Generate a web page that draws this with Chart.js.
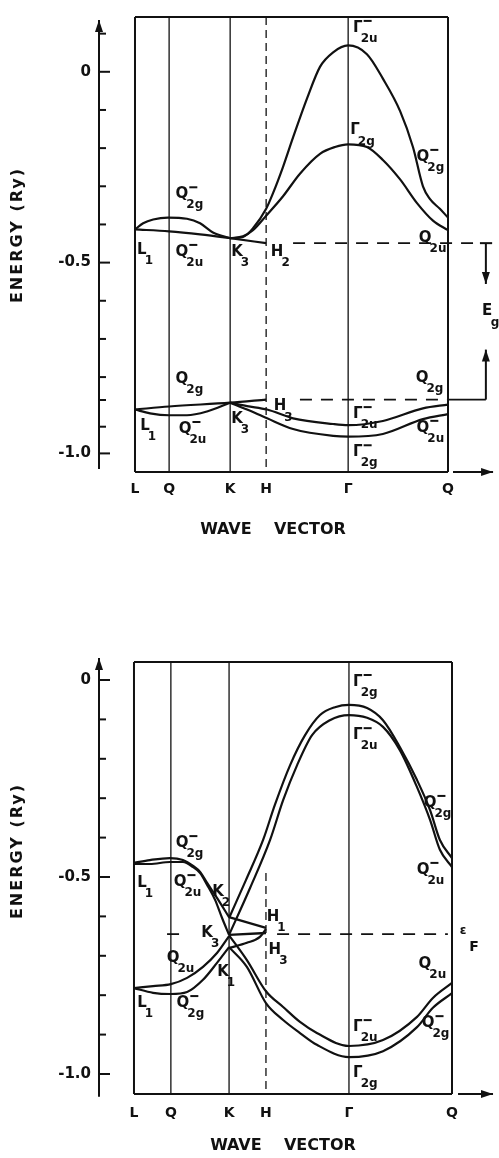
<!DOCTYPE html>
<html><head><meta charset="utf-8">
<script src="https://cdn.jsdelivr.net/npm/chart.js@4.4.1/dist/chart.umd.min.js"></script>
<style>
html,body{margin:0;padding:0;background:#fff;}
#wrap{position:relative;width:499px;height:1158px;overflow:hidden;}
#c1{position:absolute;left:0;top:0;}
#c2{position:absolute;left:0;top:560px;}
</style></head><body>
<div id="wrap">
<canvas id="c1" width="499" height="560"></canvas>
<canvas id="c2" width="499" height="598"></canvas>
</div>
<script>
// ---------- shared ----------
const symLabels = ['L','Q','K','H','Γ','Q'];
const kTop = [0, 0.109, 0.304, 0.419, 0.681, 1];
const kBot = [0, 0.116, 0.299, 0.415, 0.676, 1];
const yTicksTop = [0.1,0,-0.1,-0.2,-0.3,-0.4,-0.5,-0.6,-0.7,-0.8,-0.86,-0.93,-1.0];
const yTicksBot = [0,-0.1,-0.2,-0.3,-0.4,-0.5,-0.6,-0.7,-0.8,-0.9,-1.0];
const yLabelVals = [0,-0.5,-1.0];
const yLabelText = ['0','-0.5','-1.0'];

// ---------- top panel bands (k, E in Ry) ----------
const t1k = [0,0.026,0.058,0.105,0.166,0.208,0.249,0.304];
const t1E = [-0.413,-0.397,-0.387,-0.382,-0.385,-0.397,-0.421,-0.436];
const t2k = [0,0.109,0.208,0.304,0.419];
const t2E = [-0.413,-0.418,-0.426,-0.436,-0.449];
const t3k = [0.304,0.345,0.377,0.419,0.441,0.473,0.505,0.550,0.591,0.633,0.681,0.741,0.792,0.847,0.888,0.920,0.942,0.974,1];
const t3E = [-0.436,-0.433,-0.410,-0.359,-0.318,-0.249,-0.172,-0.069,0.013,0.051,0.069,0.046,-0.018,-0.103,-0.197,-0.300,-0.333,-0.359,-0.382];
const t4k = [0.304,0.345,0.377,0.419,0.473,0.527,0.591,0.639,0.681,0.741,0.792,0.847,0.901,0.952,1];
const t4E = [-0.436,-0.431,-0.415,-0.377,-0.326,-0.267,-0.215,-0.197,-0.190,-0.197,-0.231,-0.282,-0.344,-0.390,-0.415];
const t5k = [0,0.109,0.304,0.419];
const t5E = [-0.885,-0.877,-0.867,-0.859];
const t6k = [0,0.048,0.109,0.166,0.230,0.304];
const t6E = [-0.885,-0.895,-0.900,-0.900,-0.890,-0.867];
const t7k = [0.304,0.358,0.422,0.505,0.633,0.681,0.792,0.920,1];
const t7E = [-0.867,-0.876,-0.885,-0.908,-0.923,-0.926,-0.915,-0.882,-0.872];
const t8k = [0.304,0.358,0.422,0.505,0.633,0.681,0.792,0.920,1];
const t8E = [-0.867,-0.885,-0.908,-0.936,-0.954,-0.956,-0.949,-0.910,-0.897];
// dashed reference levels (top)
const h2DashK = [0.505, 1.08];
const h2DashE = [-0.449, -0.449];
const h3DashK = [0.527, 1.0];
const h3DashE = [-0.859, -0.859];
const h3SolidK = [1.0, 1.121];
const h3SolidE = [-0.859, -0.859];

// ---------- bottom panel bands ----------
const b1k = [0,0.050,0.113,0.154,0.186,0.208,0.230,0.261,0.299];
const b1E = [-0.464,-0.457,-0.452,-0.457,-0.472,-0.487,-0.515,-0.553,-0.602];
const b2k = [0,0.050,0.113,0.154,0.186,0.208,0.230,0.255,0.277,0.299];
const b2E = [-0.467,-0.467,-0.462,-0.462,-0.475,-0.490,-0.520,-0.558,-0.604,-0.647];
const b3k = [0.299,0.415];
const b3E = [-0.602,-0.629];
const b4k = [0.299,0.415];
const b4E = [-0.647,-0.642];
const b5k = [0,0.060,0.116,0.167,0.217,0.261,0.299];
const b5E = [-0.782,-0.777,-0.772,-0.756,-0.728,-0.693,-0.650];
const b6k = [0,0.060,0.116,0.167,0.217,0.261,0.299];
const b6E = [-0.782,-0.794,-0.797,-0.792,-0.761,-0.718,-0.678];
const b7k = [0.299,0.355,0.415,0.469,0.522,0.575,0.676,0.783,0.890,0.940,1];
const b7E = [-0.648,-0.711,-0.790,-0.830,-0.868,-0.896,-0.929,-0.914,-0.855,-0.807,-0.769];
const b8k = [0.299,0.355,0.415,0.469,0.522,0.575,0.676,0.783,0.890,0.940,1];
const b8E = [-0.678,-0.728,-0.820,-0.863,-0.896,-0.926,-0.957,-0.942,-0.881,-0.832,-0.795];
const b9k = [0.299,0.352,0.406,0.443,0.491,0.538,0.585,0.632,0.676,0.733,0.783,0.836,0.890,0.931,0.962,1];
const b9E = [-0.604,-0.508,-0.406,-0.317,-0.216,-0.140,-0.089,-0.069,-0.063,-0.071,-0.102,-0.170,-0.254,-0.330,-0.406,-0.452];
const b10k = [0.299,0.365,0.428,0.469,0.513,0.560,0.616,0.676,0.733,0.783,0.836,0.890,0.931,0.962,1];
const b10E = [-0.647,-0.528,-0.406,-0.305,-0.216,-0.140,-0.102,-0.089,-0.096,-0.119,-0.178,-0.272,-0.355,-0.431,-0.475];
const b11k = [0.299,0.355,0.396,0.415];
const b11E = [-0.680,-0.667,-0.652,-0.632];
// Fermi level
const efDash1K = [0.104, 0.145];
const efDash2K = [0.45, 0.987];
const efE = -0.645;

// ---------- labels ----------
const topLblMain = ['Γ','Γ','Q','Q','Q','L','Q','K','H','Q','L','Q','K','H','Q','Γ','Q','Γ'];
const topLblSub  = ['2u','2g','2g','2u','2g','1','2u','3','2','2g','1','2u','3','3','2g','2u','2u','2g'];
const topLblBar  = [1,0,1,0,1,0,1,0,0,0,0,1,0,0,0,1,1,1];
const topLblK    = [0.712,0.703,0.920,0.927,0.150,0.022,0.150,0.326,0.454,0.150,0.032,0.160,0.326,0.463,0.917,0.712,0.920,0.712];
const topLblE    = [0.115,-0.154,-0.223,-0.436,-0.321,-0.467,-0.472,-0.472,-0.472,-0.805,-0.928,-0.936,-0.910,-0.877,-0.803,-0.897,-0.933,-0.997];

const botLblMain = ['Γ','Γ','Q','Q','Q','L','Q','K','H','K','H','Q','K','L','Q','Q','Γ','Q','Γ'];
const botLblSub  = ['2g','2u','2g','2g','2u','1','2u','2','1','3','3','2u','1','1','2g','2u','2u','2g','2g'];
const botLblBar  = [1,1,1,1,1,0,1,0,0,0,0,0,0,0,1,0,1,1,0];
const botLblK    = [0.704,0.704,0.931,0.151,0.909,0.025,0.145,0.264,0.437,0.230,0.443,0.123,0.280,0.025,0.154,0.915,0.704,0.925,0.704];
const botLblE    = [-0.005,-0.140,-0.312,-0.414,-0.482,-0.515,-0.513,-0.538,-0.602,-0.642,-0.685,-0.706,-0.741,-0.820,-0.820,-0.721,-0.881,-0.871,-0.997];

// ---------- helpers ----------
const FONT = "'DejaVu Sans', sans-serif";
const INK = '#111';
Chart.defaults.font.family = FONT;
Chart.defaults.color = INK;

function pts(k,E){ return k.map((v,i)=>({x:v, y:E[i]})); }
function curve(k,E){
  return {data:pts(k,E), showLine:true, borderColor:INK, borderWidth:2.2, pointRadius:0,
          fill:false, cubicInterpolationMode:'monotone', clip:false};
}
function straight(k,E,dash,w){
  return {data:pts(k,E), showLine:true, borderColor:INK, borderWidth:w||1.8, pointRadius:0,
          fill:false, tension:0, borderDash:dash||[], clip:false};
}

function drawSym(ctx, x, y, main, sub, bar){
  ctx.fillStyle = INK;
  ctx.font = `bold 15px ${FONT}`;
  ctx.textAlign = 'center'; ctx.textBaseline = 'middle';
  ctx.fillText(main, x, y);
  const w = ctx.measureText(main).width;
  ctx.font = `bold 12px ${FONT}`;
  ctx.textAlign = 'left';
  const sx = x + w/2 - 2;
  ctx.fillText(sub, sx, y + 11);
  if (bar){
    ctx.strokeStyle = INK; ctx.lineWidth = 2; ctx.setLineDash([]);
    ctx.beginPath(); ctx.moveTo(sx+3, y-7); ctx.lineTo(sx+11, y-7); ctx.stroke();
  }
}
function line(ctx,x0,y0,x1,y1,w,dash){
  ctx.save(); ctx.strokeStyle=INK; ctx.lineWidth=w; ctx.setLineDash(dash||[]);
  ctx.beginPath(); ctx.moveTo(x0,y0); ctx.lineTo(x1,y1); ctx.stroke(); ctx.restore();
}
function arrowHead(ctx,x,y,dir){ // dir: 'up','down','right'
  ctx.save(); ctx.fillStyle=INK; ctx.beginPath();
  if(dir==='up'){ctx.moveTo(x,y);ctx.lineTo(x-4,y+12);ctx.lineTo(x+4,y+12);}
  if(dir==='down'){ctx.moveTo(x,y);ctx.lineTo(x-4,y-12);ctx.lineTo(x+4,y-12);}
  if(dir==='right'){ctx.moveTo(x,y);ctx.lineTo(x-12,y-4);ctx.lineTo(x-12,y+4);}
  ctx.closePath(); ctx.fill(); ctx.restore();
}

function deco(cfg){
  return {
    id:'deco',
    afterDatasetsDraw(chart){
      const {ctx, chartArea:a, scales:{x, y}} = chart;
      const px = v => x.getPixelForValue(v), py = v => y.getPixelForValue(v);
      ctx.save();
      // frame
      const L = px(0), R = px(1);
      line(ctx, L, a.top, R, a.top, 2);
      line(ctx, L, a.bottom, R, a.bottom, 2);
      line(ctx, L, a.top, L, a.bottom, 2);
      line(ctx, R, a.top, R, a.bottom, 2);
      [1,2,4].forEach(i => line(ctx, px(cfg.k[i]), a.top, px(cfg.k[i]), a.bottom, 1.3));
      line(ctx, px(cfg.k[3]), py(cfg.hDashTop), px(cfg.k[3]), a.bottom, 1.3, [8,5]);
      // y axis
      const ax = a.left;
      line(ctx, ax, py(cfg.axTop), ax, py(cfg.axBot), 2);
      arrowHead(ctx, ax, py(cfg.axTop), 'up');
      cfg.yTicks.forEach(v => {
        const lab = yLabelVals.some(t => Math.abs(t-v) < 1e-6);
        line(ctx, ax, py(v), ax + (lab ? 11 : 7), py(v), 2);
      });
      // x axis arrow
      line(ctx, px(cfg.xArr[0]), a.bottom, px(cfg.xArr[1]), a.bottom, 2);
      arrowHead(ctx, px(cfg.xArr[1]), a.bottom, 'right');
      // level labels
      cfg.lblMain.forEach((m,i) => drawSym(ctx, px(cfg.lblK[i]), py(cfg.lblE[i]), m, cfg.lblSub[i], cfg.lblBar[i]));
      // axis titles
      ctx.fillStyle = INK;
      ctx.font = `bold 16px ${FONT}`;
      ctx.textAlign = 'center'; ctx.textBaseline = 'middle';
      ctx.fillText('WAVE    VECTOR', cfg.xTitle[0], cfg.xTitle[1]);
      ctx.save();
      ctx.translate(cfg.yTitle[0], cfg.yTitle[1]);
      ctx.rotate(-Math.PI/2);
      ctx.letterSpacing = '2px';
      ctx.fillText('ENERGY (Ry)', 0, 0);
      ctx.restore();
      if (cfg.extra) cfg.extra(ctx, px, py, a);
      ctx.restore();
    }
  };
}

function scalesFor(kArr, xMin, yMin, yMax, yTicks, xAxisH, xPad){
  return {
    x:{type:'linear', min:xMin, max:1,
       afterFit(s){ s.height = xAxisH; },
       afterBuildTicks(s){ s.ticks = kArr.map(v => ({value:v})); },
       ticks:{autoSkip:false, maxRotation:0, padding:xPad, color:INK,
              font:{size:14, weight:'bold'},
              callback:(v,i) => symLabels[i]},
       grid:{display:false, drawTicks:false}, border:{display:false}},
    y:{type:'linear', min:yMin, max:yMax,
       afterFit(s){ s.width = 99; },
       afterBuildTicks(s){ s.ticks = yTicks.map(v => ({value:v})); },
       ticks:{autoSkip:false, padding:8, color:INK, font:{size:15, weight:'bold'},
              callback:(v) => { const i = yLabelVals.findIndex(t => Math.abs(t-v) < 1e-6); return i >= 0 ? yLabelText[i] : ''; }},
       grid:{display:false, drawTicks:false}, border:{display:false}}
  };
}
const baseOpts = {responsive:false, animation:false, events:[],
  plugins:{legend:{display:false}, tooltip:{enabled:false}}};

// ---------- top chart ----------
new Chart(document.getElementById('c1'), {
  type:'scatter',
  data:{datasets:[
    curve(t1k,t1E), curve(t2k,t2E), curve(t3k,t3E), curve(t4k,t4E),
    curve(t5k,t5E), curve(t6k,t6E), curve(t7k,t7E), curve(t8k,t8E),
    straight(h2DashK,h2DashE,[12,9]), straight(h3DashK,h3DashE,[12,9]), straight(h3SolidK,h3SolidE,[],1.8)
  ]},
  options:Object.assign({}, baseOpts, {
    layout:{padding:{left:0, right:51, top:7, bottom:0}},
    scales:scalesFor(kTop, -0.115, -1.0487, 0.1436, yTicksTop, 88, 9)
  }),
  plugins:[deco({
    k:kTop, hDashTop:0.1436, axTop:0.136, axBot:-1.041, yTicks:yTicksTop,
    xArr:[1.016, 1.144],
    lblMain:topLblMain, lblSub:topLblSub, lblBar:topLblBar, lblK:topLblK, lblE:topLblE,
    xTitle:[273, 530], yTitle:[18, 235],
    extra(ctx, px, py){
      const ex = px(1.121);
      line(ctx, px(1.102), py(-0.449), px(1.141), py(-0.449), 2);
      line(ctx, ex, py(-0.449), ex, py(-0.556), 2);
      arrowHead(ctx, ex, py(-0.556), 'down');
      line(ctx, ex, py(-0.859), ex, py(-0.728), 2);
      arrowHead(ctx, ex, py(-0.728), 'up');
      ctx.fillStyle = INK; ctx.textAlign='center'; ctx.textBaseline='middle';
      ctx.font = `bold 15px ${FONT}`;
      ctx.fillText('E', px(1.125), py(-0.628));
      ctx.font = `bold 12px ${FONT}`;
      ctx.fillText('g', px(1.125)+8, py(-0.628)+11);
    }
  })]
});

// ---------- bottom chart ----------
new Chart(document.getElementById('c2'), {
  type:'scatter',
  data:{datasets:[
    curve(b1k,b1E), curve(b2k,b2E), straight(b3k,b3E,[],2.2), straight(b4k,b4E,[],2.4),
    curve(b5k,b5E), curve(b6k,b6E), curve(b7k,b7E), curve(b8k,b8E),
    curve(b9k,b9E), curve(b10k,b10E), curve(b11k,b11E),
    straight(efDash1K,[efE,efE],[12,9]), straight(efDash2K,[efE,efE],[12,9])
  ]},
  options:Object.assign({}, baseOpts, {
    layout:{padding:{left:0, right:47, top:102, bottom:0}},
    scales:scalesFor(kBot, -0.110, -1.0508, 0.0457, yTicksBot, 64, 11)
  }),
  plugins:[deco({
    k:kBot, hDashTop:-0.49, axTop:0.0558, axBot:-1.058, yTicks:yTicksBot,
    xArr:[1.019, 1.129],
    lblMain:botLblMain, lblSub:botLblSub, lblBar:botLblBar, lblK:botLblK, lblE:botLblE,
    xTitle:[283, 586], yTitle:[18, 291],
    extra(ctx, px, py){
      ctx.fillStyle = INK; ctx.textAlign='center'; ctx.textBaseline='middle';
      ctx.font = `bold 12px ${FONT}`;
      ctx.fillText('ε', px(1.035), py(-0.637));
      ctx.font = `bold 14px ${FONT}`;
      ctx.fillText('F', px(1.035)+11, py(-0.637)+16);
    }
  })]
});
</script>
</body></html>
